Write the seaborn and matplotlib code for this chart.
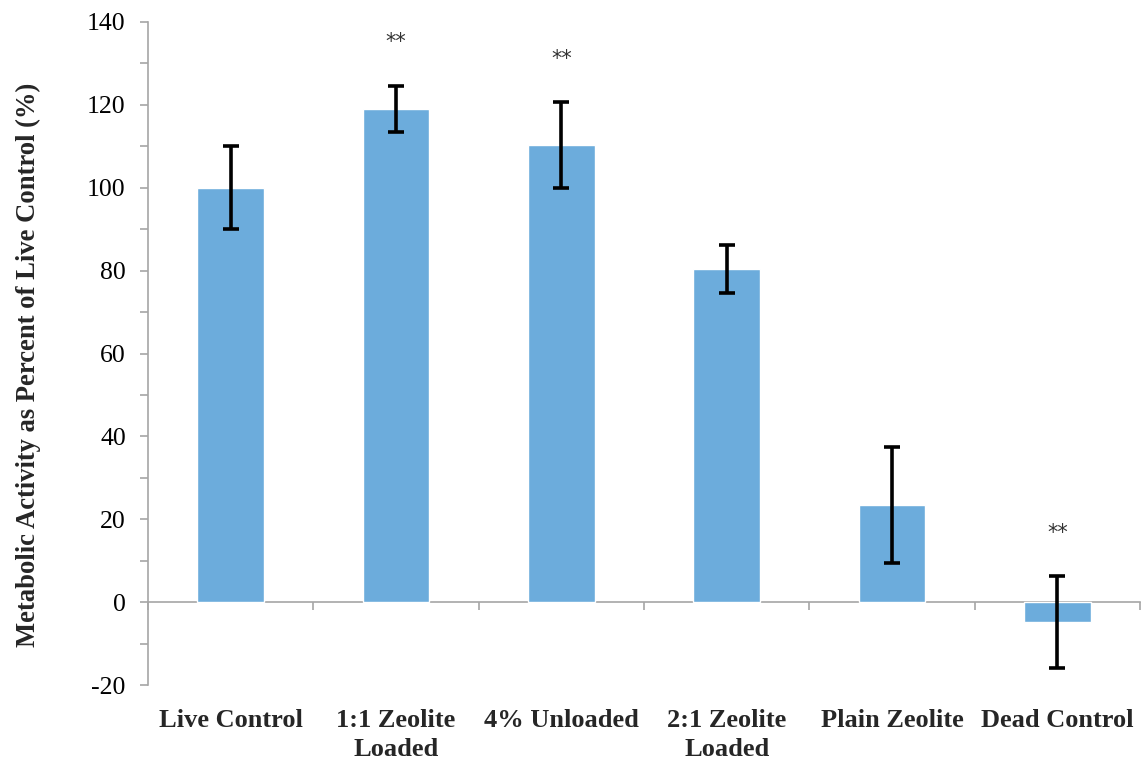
import matplotlib
matplotlib.use("Agg")
import matplotlib.pyplot as plt
import seaborn as sns
import pandas as pd

# Metabolic activity per treatment group, with error bar half-widths
categories = ["Live Control", "1:1 Zeolite\nLoaded", "4% Unloaded",
              "2:1 Zeolite\nLoaded", "Plain Zeolite", "Dead Control"]
activity = [100.0, 119.0, 110.3, 80.4, 23.4, -4.8]
errors = [10.0, 5.6, 10.3, 5.9, 14.0, 11.0]
significant = [False, True, True, False, False, True]

y_ticks = [-20, 0, 20, 40, 60, 80, 100, 120, 140]

sns.set_theme(style="white")
plt.rcParams["font.family"] = ["Liberation Serif", "DejaVu Serif"]
plt.rcParams["axes.unicode_minus"] = False

df = pd.DataFrame({"group": categories, "activity": activity})

fig = plt.figure(figsize=(11.43, 7.63), dpi=100)
ax = fig.add_axes([148 / 1143, 1 - 685 / 763, (1140 - 148) / 1143, (685 - 22) / 763])

bar_color = "#6CACDC"
sns.barplot(data=df, x="group", y="activity", color=bar_color, saturation=1,
            width=0.405, ax=ax, errorbar=None)

xpos = list(range(len(categories)))
ax.errorbar(xpos, activity, yerr=errors, fmt="none", ecolor="black",
            elinewidth=2.6, capsize=6, capthick=2.6, zorder=5)

# significance markers above the error bars
for x, v, e, s in zip(xpos, activity, errors, significant):
    if s:
        ax.text(x, v + e + 10.5, "**", ha="center", va="center",
                fontsize=15, color="#333333", family=["DejaVu Sans"])

ax.set_ylim(-20, 140)
ax.set_xlim(-0.5, len(categories) - 0.5)
ax.set_yticks(y_ticks)
ax.set_yticks(range(-20, 141, 10), minor=True)
ax.tick_params(axis="y", which="both", direction="out", length=6, width=1.2,
               color="#A6A6A6", left=True)
ax.tick_params(axis="y", which="major", labelsize=18.5, pad=10)
for lbl in ax.get_yticklabels():
    lbl.set_color("black")

ax.set_xlabel("")
ax.tick_params(axis="x", length=0, pad=17, labelsize=19)
for lbl in ax.get_xticklabels():
    lbl.set_fontweight("bold")
    lbl.set_linespacing(1.35)

ax.set_ylabel("Metabolic Activity as Percent of Live Control (%)",
              fontsize=19.2, fontweight="bold")
ax.yaxis.set_label_coords(-0.1074, 0.483)

for side in ["top", "right", "bottom"]:
    ax.spines[side].set_visible(False)
ax.spines["left"].set_color("#A6A6A6")
ax.spines["left"].set_linewidth(1.2)

# category axis running along zero, with ticks between groups
zero_axis = ax.secondary_xaxis(0, transform=ax.transData)
zero_axis.set_xticks([i - 0.5 for i in range(len(categories) + 1)])
zero_axis.set_xticklabels([])
zero_axis.tick_params(direction="out", length=6, width=1.2, color="#A6A6A6")
zero_axis.spines["bottom"].set_color("#A6A6A6")
zero_axis.spines["bottom"].set_linewidth(1.2)

fig.savefig("out.png", dpi=100, facecolor="white")
